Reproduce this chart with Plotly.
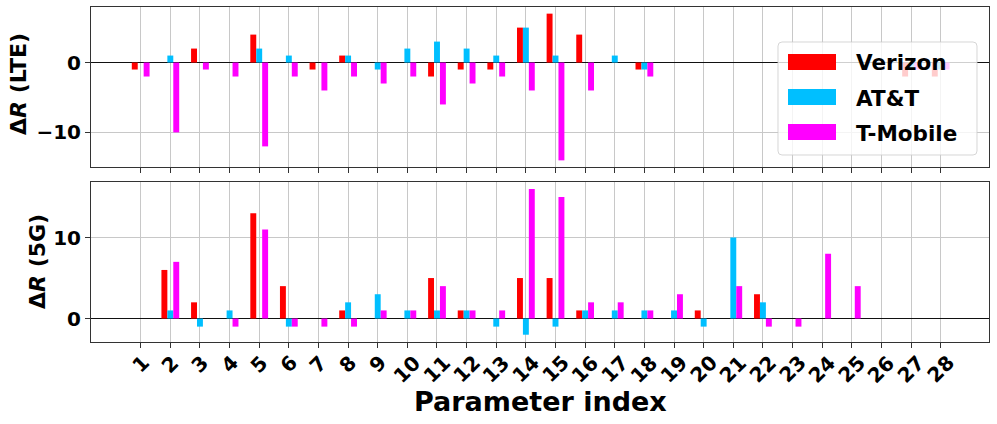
import plotly.graph_objects as go

# ---------------- data ----------------
param_index = list(range(1, 29))
tick_labels = [str(i) for i in param_index]
carriers = ["Verizon", "AT&T", "T-Mobile"]
colors = ["#ff0000", "#00bfff", "#ff00ff"]

verizon_lte = [-1, 0, 2, 0, 4, 0, -1, 1, 0, 0, -2, -1, -1, 5, 7, 4, 0, -1, 0, 0, 0, 0, 0, 0, 0, 0, -2, -2]
att_lte = [0, 1, 0, 0, 2, 1, 0, 1, -1, 2, 3, 2, 1, 5, 1, 0, 1, -1, 0, 0, 0, 0, 0, 0, 0, 0, -1, -1]
tmobile_lte = [-2, -10, -1, -2, -12, -2, -4, -2, -3, -2, -6, -3, -2, -4, -14, -4, 0, -2, 0, 0, 0, 0, 0, 0, 0, 0, -1, -1]

verizon_5g = [0, 6, 2, 0, 13, 4, 0, 1, 0, 0, 5, 1, 0, 5, 5, 1, 0, 0, 0, 1, 0, 3, 0, 0, 0, 0, 0, 0]
att_5g = [0, 1, -1, 1, 0, -1, 0, 2, 3, 1, 1, 1, -1, -2, -1, 1, 1, 1, 1, -1, 10, 2, 0, 0, 0, 0, 0, 0]
tmobile_5g = [0, 7, 0, -1, 11, -1, -1, -1, 1, 1, 4, 1, 1, 16, 15, 2, 2, 1, 3, 0, 4, -1, -1, 8, 4, 0, 0, 0]

lte_series = [verizon_lte, att_lte, tmobile_lte]
g5_series = [verizon_5g, att_5g, tmobile_5g]

# ---------------- layout helpers ----------------
W, H = 997, 424
ML, MR, MT, MB = 91, 8, 7, 82
PW, PH = W - ML - MR, H - MT - MB


def px(x):
    return (x - ML) / PW


def py(y):
    return (H - MB - y) / PH


FONT = "DejaVu Sans"
BAR_W = 0.2
offsets = [-0.3, -0.1, 0.1]

fig = go.Figure()
for vals, name, col, off in zip(lte_series, carriers, colors, offsets):
    fig.add_trace(go.Bar(x=param_index, y=vals, name=name, width=BAR_W, offset=off,
                         marker=dict(color=col, line=dict(width=0)),
                         xaxis="x", yaxis="y", showlegend=False))
for vals, name, col, off in zip(g5_series, carriers, colors, offsets):
    fig.add_trace(go.Bar(x=param_index, y=vals, name=name, width=BAR_W, offset=off,
                         marker=dict(color=col, line=dict(width=0)),
                         xaxis="x2", yaxis="y2", showlegend=False))

xr = [-0.677, 29.63]
common_x = dict(range=xr, tickmode="array", tickvals=param_index, showticklabels=False,
                ticks="outside", ticklen=5, tickcolor="#333", showgrid=True,
                gridcolor="#c8c8c8", gridwidth=1, showline=True, linecolor="#333",
                linewidth=1, mirror=True, zeroline=False)
common_y = dict(ticks="outside", ticklen=5, tickcolor="#333", showgrid=True,
                gridcolor="#c8c8c8", gridwidth=1, showline=True, linecolor="#333",
                linewidth=1, mirror=True, zeroline=True, zerolinecolor="#111",
                zerolinewidth=1.3, tickfont=dict(family=FONT, size=20, color="black", weight="bold"))

top_dom = [py(167), 1]
bot_dom = [0, py(181.7)]

fig.update_layout(
    width=W, height=H,
    margin=dict(l=ML, r=MR, t=MT, b=MB),
    paper_bgcolor="white", plot_bgcolor="white",
    barmode="overlay",
    showlegend=False,
    xaxis=dict(domain=[0, 1], anchor="y", **common_x),
    xaxis2=dict(domain=[0, 1], anchor="y2", matches="x", **common_x),
    yaxis=dict(domain=top_dom, anchor="x", range=[-14.95, 7.95], tickvals=[-10, 0],
               ticktext=["\u221210", "0"], **common_y),
    yaxis2=dict(domain=bot_dom, anchor="x2", range=[-2.9, 16.9], tickvals=[0, 10],
                ticktext=["0", "10"], **common_y),
)

annotations = []
# x tick labels (rotated, centred on ticks)
for i, lab in zip(param_index, tick_labels):
    annotations.append(dict(x=i, xref="x2", y=py(348), yref="paper", text=lab,
                            textangle=-45, xanchor="center", yanchor="top", showarrow=False,
                            font=dict(family=FONT, size=20, color="black", weight="bold")))
# axis titles
annotations.append(dict(x=px(540), xref="paper", y=py(401), yref="paper",
                        text="Parameter index", showarrow=False, xanchor="center", yanchor="middle",
                        font=dict(family=FONT, size=27, color="black", weight="bold")))
annotations.append(dict(x=px(18), xref="paper", y=py(84), yref="paper",
                        text="\u0394<i>R</i> (LTE)", textangle=-90, showarrow=False,
                        xanchor="center", yanchor="middle",
                        font=dict(family=FONT, size=22, color="black", weight="bold")))
annotations.append(dict(x=px(37), xref="paper", y=py(262), yref="paper",
                        text="\u0394<i>R</i> (5G)", textangle=-90, showarrow=False,
                        xanchor="center", yanchor="middle",
                        font=dict(family=FONT, size=22, color="black", weight="bold")))

# manual legend (semi-transparent box, wide patches)
shapes = []
bx0, bx1, by0, by1 = 778, 977, 42, 155
r = 4
rx, ry = r / PW, r / PH
X0, X1, Y0, Y1 = px(bx0), px(bx1), py(by1), py(by0)
path = (f"M {X0+rx},{Y0} L {X1-rx},{Y0} Q {X1},{Y0} {X1},{Y0+ry} "
        f"L {X1},{Y1-ry} Q {X1},{Y1} {X1-rx},{Y1} L {X0+rx},{Y1} "
        f"Q {X0},{Y1} {X0},{Y1-ry} L {X0},{Y0+ry} Q {X0},{Y0} {X0+rx},{Y0} Z")
shapes.append(dict(type="path", path=path, xref="paper", yref="paper",
                   fillcolor="rgba(255,255,255,0.8)", line=dict(color="rgba(204,204,204,0.8)", width=1),
                   layer="above"))
for k, (name, col) in enumerate(zip(carriers, colors)):
    ytop = 54 + 35 * k
    shapes.append(dict(type="rect", xref="paper", yref="paper", x0=px(788), x1=px(836),
                       y0=py(ytop + 16), y1=py(ytop), fillcolor=col, line=dict(width=0),
                       layer="above"))
    annotations.append(dict(x=px(854), xref="paper", y=py(ytop + 9), yref="paper", text=name,
                            showarrow=False, xanchor="left", yanchor="middle",
                            font=dict(family=FONT, size=21.5, color="black", weight="bold")))

fig.update_layout(shapes=shapes, annotations=annotations)
fig.write_html("out.html", config={"displayModeBar": False},
               post_script="document.body.style.margin='0';document.body.style.padding='0';")
